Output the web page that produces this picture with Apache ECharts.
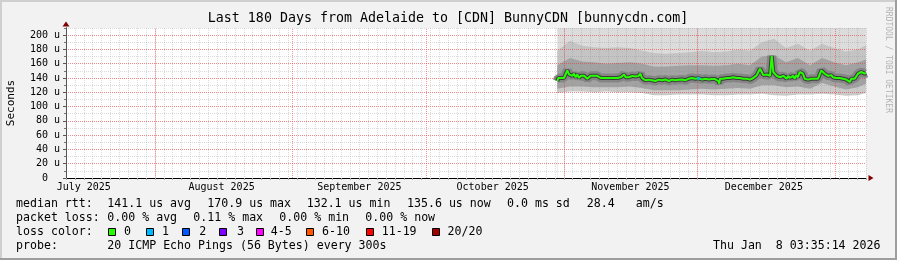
<!DOCTYPE html>
<html>
<head>
<meta charset="utf-8">
<script src="https://cdn.jsdelivr.net/npm/echarts@6/dist/echarts.min.js"></script>
<style>
html,body{margin:0;padding:0;background:#f2f2f2;}
#c{width:897px;height:260px;}
</style>
</head>
<body>
<div id="c"></div>
<script>
// ---- DATA (x = days since 1 July 2025 00:00) ----
const monthStarts = [31, 62, 92, 123, 153, 184];
const monthLabelDays = [15, 46, 77, 107, 138, 168];
const monthLabels = ['July 2025', 'August 2025', 'September 2025', 'October 2025', 'November 2025', 'December 2025'];

const medDays = [121.54,121.77,122.31,123.05,123.43,123.79,124.18,124.56,124.92,125.30,125.68,126.04,126.43,126.81,127.17,127.55,127.93,128.29,128.68,129.06,129.42,129.80,130.18,130.54,130.93,131.31,131.67,132.05,132.43,132.79,133.18,133.56,133.92,134.30,134.68,135.04,135.43,135.81,136.17,136.55,136.93,137.29,137.68,138.06,138.42,138.73,139.09,139.48,139.86,140.22,140.60,140.98,141.34,141.73,142.11,142.47,142.85,143.23,143.59,143.98,144.36,144.72,145.10,145.48,145.84,146.23,146.61,146.97,147.35,147.73,148.09,148.48,148.86,149.22,149.60,149.98,150.34,150.73,151.11,151.47,151.85,152.23,152.59,152.98,153.36,153.72,154.10,154.48,154.84,155.23,155.61,155.97,156.28,156.64,157.03,157.41,157.77,157.99,158.15,158.53,158.89,159.28,159.66,160.02,160.40,160.78,161.14,161.53,161.91,162.27,162.65,163.03,163.39,163.78,164.16,164.52,164.90,165.28,165.64,166.03,166.41,166.77,167.15,167.53,167.89,168.28,168.66,169.02,169.40,169.78,170.14,170.53,170.91,171.27,171.65,172.03,172.39,172.78,173.16,173.52,173.83,174.19,174.58,174.96,175.32,175.70,176.08,176.44,176.83,177.21,177.57,177.95,178.33,178.69,179.08,179.46,179.82,180.20,180.58,180.94,181.33,181.71,182.07,182.45,182.83,183.19,183.58,183.96,184.32,184.70,185.08,185.44,185.83,186.21,186.57,186.95,187.33,187.69,188.08,188.46,188.82,189.20,189.58,189.94,190.33,190.71,191.00];
const medVals = [135.8,140,140,140,141,150.7,145,144,143,146,141,145,140,143,141,143,141,139,141,143,141,143,144,143,141,140,141,140,139,140,141,140,139,140,141,140,142,141,143,145,141,142,141,143,143,142,142,141,143,146,140,138,136.8,135.4,137.7,135.8,136.8,137,135.8,136.8,137.7,136,136.8,137.5,138,136.8,135.8,137,137.7,136.5,136.8,137.7,137.7,136.8,138,137.5,136.8,138,139,139,140,139.5,139,138.5,139.5,139,138,139,139,138.5,138,139,138.5,137.7,138.5,139,135.8,132.1,139,139.5,139,139.5,140,138,140,139,141,142,140,142,140,139.5,139,141,139,140,137.7,139,140,142,144,146,153,148.4,144,144,145,146,143,170.9,148.4,146,143,144,141,139,143,141,139,143,140,139,143,139,144,141,148.4,150.7,146,139,141,137.7,140,139,136.8,139,138,139,138,150.7,149,146,145,143,141,144,141,143,140,141,140,140,139,139,138,136.8,134.4,139,138,139,140,146,145,148.4,146,146,147];

// points with 1/20 packet loss
const loss1Days = [153.36];
const loss1Vals = [139.5];

// smoke (ping spread) envelope
const smokeDays = [121.54,124.40,127.10,129.80,132.50,135.20,137.90,140.60,143.30,146.00,148.70,151.40,154.10,156.80,159.50,162.20,164.90,167.60,170.30,173.00,175.70,178.40,181.10,183.80,186.50,189.20,191.00];
const smokeTop = [230,230,230,230,230,230,230,230,230,230,230,230,230,230,230,230,230,230,230,230,230,230,230,230,230,230,230];
const smokeUp  = [178,192,185,183,182,183,182,178,175,174,175,176,178,176,177,180,178,190,195,182,188,178,188,182,177,180,186];
const smokeHi  = [158,168,163,162,160,161,162,160,156,156,157,158,158,157,158,160,158,170,172,162,168,158,168,162,158,162,166];
const smokeLo  = [125,128,128,127,127,127,128,126,123,123,123,124,125,124,125,126,125,130,130,127,128,125,133,128,124,127,132];
const smokeMin = [119,121,121,120,121,120,120,119,116,116,117,117,117,116,116,117,117,118,116,115,117,117,118,117,115,116,119];

// legend texts
const titleText = 'Last 180 Days from Adelaide to [CDN] BunnyCDN [bunnycdn.com]';
const rttStats = ['141.1 us avg', '170.9 us max', '132.1 us min', '135.6 us now', '0.0 ms sd', '28.4', 'am/s'];
const lossStats = ['0.00 % avg', '0.11 % max', '0.00 % min', '0.00 % now'];
const lossLabels = ['0', '1', '2', '3', '4-5', '6-10', '11-19', '20/20'];
const lossColors = ['#26ff00', '#00b8ff', '#0059ff', '#7e00ff', '#ff00ff', '#ff5500', '#ff0000', '#a10000'];
const probeText = '20 ICMP Echo Pings (56 Bytes) every 300s';
const dateText = 'Thu Jan  8 03:35:14 2026';

// ---- LAYOUT ----
const MONO = 'DejaVu Sans Mono';
const rttX = [107.3, 207.3, 306.7, 407, 507, 586.7, 635.7];
const lossX = [107.3, 193.3, 279.3, 365.3];
const boxX = [108.3, 145.7, 182.3, 219, 256, 306, 365.7, 431.5];
const boxLabelX = [124, 162, 199.3, 237, 270.7, 322, 381.7, 447.5];
const rowY = [203.7, 218, 232, 246];
const LF = 11.6;

const pairs = (xs, ys) => xs.map((x, i) => [x, ys[i]]);

const graphics = [];
function txt(x, y, s, opt) {
  graphics.push(Object.assign({
    type: 'text', x: x, y: y, silent: true,
    style: { text: s, font: LF + 'px "' + MONO + '"', fill: '#000', align: 'left', verticalAlign: 'middle' }
  }, opt || {}));
}
// border shading
graphics.push({ type: 'rect', shape: { x: 0, y: 0, width: 897, height: 2 }, style: { fill: '#cfcfcf' }, silent: true });
graphics.push({ type: 'rect', shape: { x: 0, y: 0, width: 2, height: 260 }, style: { fill: '#cfcfcf' }, silent: true });
graphics.push({ type: 'rect', shape: { x: 0, y: 258, width: 897, height: 2 }, style: { fill: '#9e9e9e' }, silent: true });
graphics.push({ type: 'rect', shape: { x: 895, y: 0, width: 2, height: 260 }, style: { fill: '#9e9e9e' }, silent: true });
// title
txt(448, 19, titleText, { style: { text: titleText, font: '13.3px "' + MONO + '"', fill: '#000', align: 'center', verticalAlign: 'middle' } });
// y name
graphics.push({ type: 'text', x: 11, y: 103, rotation: Math.PI / 2, silent: true,
  style: { text: 'Seconds', font: '11px "' + MONO + '"', fill: '#000', align: 'center', verticalAlign: 'middle' } });
// watermark
graphics.push({ type: 'text', x: 888.5, y: 60, rotation: -Math.PI / 2, silent: true,
  style: { text: 'RRDTOOL / TOBI OETIKER', font: '8px "' + MONO + '"', fill: '#b4b4b4', align: 'center', verticalAlign: 'middle' } });
// legend rows
txt(16, rowY[0], 'median rtt:');
rttStats.forEach((s, i) => txt(rttX[i], rowY[0], s));
txt(16, rowY[1], 'packet loss:');
lossStats.forEach((s, i) => txt(lossX[i], rowY[1], s));
txt(16, rowY[2], 'loss color:');
lossLabels.forEach((s, i) => {
  graphics.push({ type: 'rect', silent: true, shape: { x: Math.round(boxX[i]) + 0.5, y: 228.5, width: 7, height: 7 },
    style: { fill: lossColors[i], stroke: '#000', lineWidth: 1 } });
  txt(boxLabelX[i], rowY[2], s);
});
txt(16, rowY[3], 'probe:');
txt(107.3, rowY[3], probeText);
txt(880.5, rowY[3], dateText, { style: { text: dateText, font: LF + 'px "' + MONO + '"', fill: '#000', align: 'right', verticalAlign: 'middle' } });

const gridGray = 'rgba(140,140,140,0.32)';
const gridRed = 'rgba(255,40,40,0.45)';
const monthRed = 'rgba(255,40,40,0.5)';

function smoke(vals, color) {
  return {
    type: 'line', z: 1, silent: true, symbol: 'none', animation: false,
    data: pairs(smokeDays, vals),
    lineStyle: { width: 0 },
    areaStyle: { color: color, opacity: 1 }
  };
}

const option = {
  backgroundColor: '#f2f2f2',
  animation: false,
  grid: { left: 66, top: 28, width: 800, height: 150, show: true, backgroundColor: '#ffffff', borderWidth: 0 },
  xAxis: [
    {
      type: 'value', position: 'bottom', min: 11, max: 191, interval: 2, z: 3,
      axisLine: { show: true, lineStyle: { color: '#000', width: 1 } },
      axisTick: { show: true, length: 2, lineStyle: { color: '#aaa' } },
      splitLine: { show: true, lineStyle: { color: gridGray, type: [1, 1], width: 1 } },
      axisLabel: {
        customValues: monthLabelDays,
        formatter: function (v) { const k = monthLabelDays.indexOf(Math.round(v)); return k >= 0 ? monthLabels[k] : ''; },
        fontFamily: MONO, fontSize: 10, color: '#000', margin: 4
      }
    },
    {
      type: 'value', position: 'bottom', min: 11, max: 191, z: 2,
      axisLine: { show: true, lineStyle: { color: '#800000', width: 1 }, symbol: ['none', 'triangle'], symbolSize: [6, 5], symbolOffset: [0, 5] },
      axisTick: { show: false }, axisLabel: { show: false }, splitLine: { show: false }
    },
    {
      // month boundaries: red dotted lines drawn as full-height inside ticks
      type: 'value', position: 'bottom', min: 11, max: 191, z: 3,
      axisLine: { show: false }, axisLabel: { show: false }, splitLine: { show: false },
      axisTick: { show: true, customValues: monthStarts, inside: true, length: 150,
        lineStyle: { color: monthRed, type: [1, 1], width: 1 } }
    }
  ],
  yAxis: [
    {
      type: 'value', position: 'left', min: 0, max: 210, interval: 20, z: 3,
      axisLine: { show: true, lineStyle: { color: '#555', width: 1 } },
      axisTick: { show: true, length: 3, lineStyle: { color: '#555' } },
      splitLine: { show: true, showMaxLine: false, lineStyle: { color: gridRed, type: [1, 1], width: 1 } },
      axisLabel: {
        showMaxLabel: false,
        formatter: function (v) { return v === 0 ? '0  ' : v + ' u'; },
        fontFamily: MONO, fontSize: 10, color: '#000', margin: 6
      }
    },
    {
      type: 'value', position: 'left', min: 0, max: 210, interval: 10, z: 2,
      axisLine: { show: true, lineStyle: { color: '#800000', width: 1 }, symbol: ['none', 'triangle'], symbolSize: [7, 5], symbolOffset: [0, 4] },
      axisTick: { show: true, length: 2, lineStyle: { color: '#777' } },
      splitLine: { show: true, lineStyle: { color: gridGray, type: [1, 1], width: 1 } },
      axisLabel: { show: false }
    }
  ],
  graphic: { elements: graphics },
  series: [
    smoke(smokeTop, '#dcdcdc'),
    smoke(smokeUp, '#c4c4c4'),
    smoke(smokeHi, '#a2a2a2'),
    smoke(smokeLo, '#cacaca'),
    smoke(smokeMin, '#ffffff'),
    {
      type: 'line', z: 4, silent: true, symbol: 'none',
      data: pairs(medDays, medVals),
      lineStyle: { color: '#858585', width: 9 }
    },
    {
      type: 'line', z: 4, silent: true, symbol: 'none',
      data: pairs(medDays, medVals),
      lineStyle: { color: '#3c3c3c', width: 4 }
    },
    {
      type: 'line', z: 5, silent: true, symbol: 'none',
      data: pairs(medDays, medVals),
      lineStyle: { color: '#26ff00', width: 2 }
    },
    {
      type: 'scatter', z: 6, silent: true, symbol: 'rect', symbolSize: [3, 3],
      data: pairs(loss1Days, loss1Vals),
      itemStyle: { color: lossColors[1] }
    }
  ]
};

const chart = echarts.init(document.getElementById('c'), null, { renderer: 'canvas' });
chart.setOption(option);
</script>
</body>
</html>
